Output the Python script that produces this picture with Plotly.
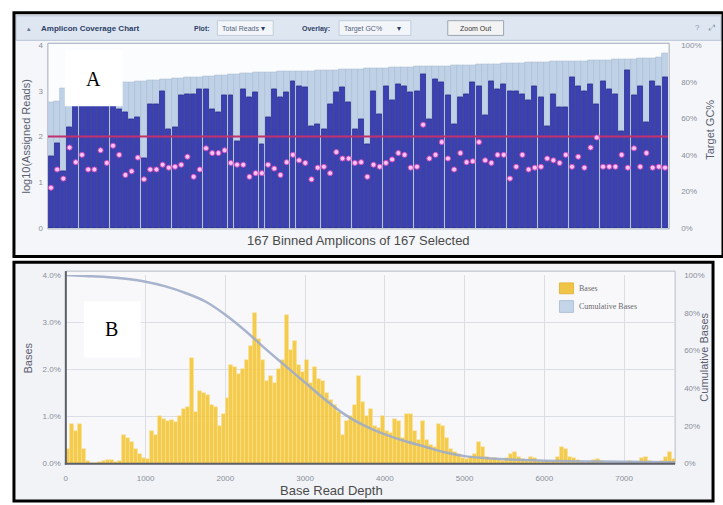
import plotly.graph_objects as go

W, H = 723, 505


def fx(x):
    return x / W


def fy(y):
    return 1 - y / H


# ---------------- Panel A: amplicon coverage ----------------
amplicon_index = list(range(100))

reads_max_log10 = [
    2.75, 2.78, 3.05, 3.08, 3.10, 3.12, 3.13, 3.14, 3.15, 3.16,
    3.17, 3.18, 3.19, 3.20, 3.21, 3.22, 3.23, 3.24, 3.25, 3.26,
    3.27, 3.28, 3.29, 3.30, 3.31, 3.32, 3.33, 3.34, 3.35, 3.36,
    3.37, 3.38, 3.39, 3.40, 3.40, 3.41, 3.41, 3.42, 3.42, 3.43,
    3.43, 3.44, 3.44, 3.45, 3.45, 3.46, 3.46, 3.47, 3.47, 3.48,
    3.48, 3.49, 3.49, 3.50, 3.50, 3.51, 3.51, 3.52, 3.52, 3.53,
    3.53, 3.54, 3.54, 3.55, 3.55, 3.56, 3.56, 3.57, 3.57, 3.58,
    3.58, 3.59, 3.59, 3.60, 3.60, 3.61, 3.61, 3.62, 3.62, 3.63,
    3.63, 3.64, 3.64, 3.65, 3.65, 3.66, 3.66, 3.67, 3.67, 3.68,
    3.68, 3.69, 3.69, 3.70, 3.70, 3.71, 3.71, 3.72, 3.73, 3.83,
]

reads_log10 = [
    1.57, 1.85, 1.25, 2.20, 2.70, 2.95, 3.00, 2.80, 2.95, 3.05,
    2.70, 2.60, 2.54, 2.37, 2.43, 1.53, 2.71, 2.71, 3.00, 2.17,
    2.20, 2.90, 2.92, 2.92, 3.03, 3.03, 2.60, 2.54, 2.90, 2.90,
    1.89, 3.03, 2.86, 2.97, 1.83, 2.43, 3.03, 2.86, 2.97, 3.22,
    3.11, 3.08, 2.22, 2.26, 2.15, 2.71, 2.97, 3.08, 2.75, 2.15,
    2.39, 1.83, 3.00, 2.50, 3.11, 2.80, 3.14, 3.11, 2.97, 3.00,
    3.36, 2.39, 3.25, 3.18, 2.90, 2.28, 2.86, 2.92, 3.18, 3.11,
    2.47, 3.22, 3.03, 3.14, 3.00, 3.00, 2.92, 2.80, 3.11, 2.86,
    2.22, 2.92, 2.65, 2.65, 3.29, 3.11, 3.00, 3.14, 2.71, 3.22,
    3.03, 2.92, 2.11, 3.46, 2.90, 3.11, 2.32, 3.22, 3.11, 3.29,
]

target_gc_pct = [
    22.0, 32.0, 27.0, 44.0, 36.0, 40.0, 32.0, 32.0, 42.5, 35.6,
    45.0, 40.0, 29.0, 31.0, 38.5, 26.6, 32.0, 32.0, 34.6, 33.0,
    33.5, 34.6, 39.0, 28.0, 32.0, 43.6, 41.0, 41.0, 42.5, 35.6,
    34.6, 34.6, 28.0, 30.0, 30.0, 34.6, 32.5, 29.0, 36.0, 40.0,
    37.0, 35.6, 26.6, 33.0, 33.5, 30.0, 41.5, 38.0, 38.0, 35.6,
    36.0, 28.0, 34.6, 33.5, 35.6, 37.5, 41.0, 40.0, 33.0, 33.5,
    56.5, 38.0, 40.0, 47.0, 38.0, 32.0, 41.0, 36.0, 36.5, 47.0,
    37.0, 35.6, 40.0, 40.0, 27.0, 33.5, 40.0, 32.0, 33.0, 33.5,
    38.0, 37.0, 35.6, 40.0, 33.5, 39.0, 33.0, 44.0, 49.5, 33.5,
    33.5, 33.5, 40.0, 33.0, 43.6, 33.5, 41.0, 33.0, 33.5, 33.0,
]

mean_reads_log10 = 2.0
reads_ticks = [0, 1, 2, 3, 4]
gc_ticks = [0, 20, 40, 60, 80, 100]
gc_tick_text = ["0%", "20%", "40%", "60%", "80%", "100%"]

# ---------------- Panel B: base read depth ----------------
bin_width = 50
depth_bin_start = list(range(0, 7650, bin_width))

bases_pct = [
    0.30, 0.85, 0.70, 0.85, 0.30, 0.05, 0.02, 0.02, 0.03, 0.05,
    0.08, 0.08, 0.03, 0.05, 0.60, 0.55, 0.45, 0.30, 0.20, 0.12,
    0.10, 0.70, 0.60, 1.00, 0.95, 0.90, 0.92, 0.88, 1.00, 1.15,
    1.20, 2.25, 1.10, 1.55, 1.50, 1.45, 1.25, 1.20, 0.80, 1.05,
    1.40, 2.10, 2.05, 1.90, 2.00, 2.20, 2.50, 3.20, 2.65, 2.20,
    1.75, 1.85, 1.70, 2.00, 2.20, 3.15, 2.40, 2.60, 2.10, 1.95,
    2.20, 1.70, 2.05, 1.80, 1.75, 1.50, 1.35, 1.25, 1.10, 0.60,
    0.90, 1.00, 1.25, 1.85, 1.30, 1.00, 1.15, 0.80, 0.75, 1.00,
    0.70, 0.65, 0.95, 0.90, 0.55, 1.05, 1.05, 0.70, 0.50, 0.90,
    0.50, 0.40, 0.35, 0.85, 0.80, 0.55, 0.30, 0.25, 0.20, 0.12,
    0.10, 0.15, 0.20, 0.45, 0.35, 0.15, 0.10, 0.12, 0.08, 0.05,
    0.12, 0.20, 0.25, 0.15, 0.10, 0.05, 0.15, 0.12, 0.05, 0.03,
    0.05, 0.04, 0.06, 0.15, 0.35, 0.30, 0.15, 0.12, 0.08, 0.03,
    0.02, 0.03, 0.08, 0.10, 0.05, 0.02, 0.01, 0.02, 0.02, 0.01,
    0.02, 0.05, 0.02, 0.03, 0.12, 0.15, 0.05, 0.02, 0.03, 0.05,
    0.15, 0.25, 0.10,
]

cum_depth = [0, 250, 500, 750, 1000, 1250, 1500, 1750, 2000, 2250, 2500,
             2750, 3000, 3250, 3500, 3750, 4000, 4250, 4500, 4750, 5000,
             5250, 5500, 6000, 6500, 7000, 7640]
cum_bases_pct = [100, 99.5, 99, 98, 96.5, 94, 90.5, 86, 79, 70.5, 61,
                 52, 43, 34, 26, 20, 15.5, 12, 9, 6, 4,
                 3, 2.3, 1.6, 1.2, 1.0, 0.8]

bases_ticks = [0, 1, 2, 3, 4]
bases_tick_text = ["0.0%", "1.0%", "2.0%", "3.0%", "4.0%"]
cum_ticks = [0, 20, 40, 60, 80, 100]
cum_tick_text = ["0%", "20%", "40%", "60%", "80%", "100%"]
depth_ticks = [0, 1000, 2000, 3000, 4000, 5000, 6000, 7000]

fig = go.Figure()

# Panel A traces
fig.add_trace(go.Bar(
    x=amplicon_index, y=reads_max_log10, width=1.04,
    marker=dict(color="#BFD1E6", line=dict(color="#A6B9CF", width=0.5)),
    xaxis="x", yaxis="y", showlegend=False, hoverinfo="skip"))
fig.add_trace(go.Bar(
    x=amplicon_index, y=reads_log10, width=0.8,
    marker=dict(color="#3B40B4", line=dict(color="#262A86", width=0.7)),
    xaxis="x", yaxis="y", showlegend=False))
fig.add_trace(go.Scatter(
    x=[-0.5, 99.5], y=[mean_reads_log10, mean_reads_log10], mode="lines",
    line=dict(color="#C4306E", width=2),
    xaxis="x", yaxis="y", showlegend=False, hoverinfo="skip"))
fig.add_trace(go.Scatter(
    x=amplicon_index, y=target_gc_pct, mode="markers",
    marker=dict(size=5, color="#F6C6F0", line=dict(color="#D64CC8", width=1)),
    xaxis="x", yaxis="y2", showlegend=False))

# Panel B traces
fig.add_trace(go.Bar(
    x=depth_bin_start, y=bases_pct, width=bin_width, offset=0,
    marker=dict(color="rgba(243,196,52,0.88)",
                line=dict(color="rgba(250,226,150,0.9)", width=0.6)),
    xaxis="x3", yaxis="y3", showlegend=False))
fig.add_trace(go.Scatter(
    x=cum_depth, y=cum_bases_pct, mode="lines",
    line=dict(color="rgba(158,172,200,0.9)", width=2.5, shape="spline"),
    xaxis="x3", yaxis="y4", showlegend=False))

tick_font = dict(family="Liberation Sans, Arial", size=8, color="#8A8F9A")

A_left, A_right, A_top, A_bottom = 46, 668, 42, 228
B_left, B_right, B_top, B_bottom = 64, 675, 276, 468

fig.update_layout(
    width=W, height=H,
    margin=dict(l=0, r=0, t=0, b=0),
    paper_bgcolor="white",
    plot_bgcolor="rgba(0,0,0,0)",
    barmode="overlay",
    bargap=0,
    xaxis=dict(domain=[fx(A_left), fx(A_right)], range=[-0.5, 99.5],
               showticklabels=False, ticks="", showgrid=False, zeroline=False,
               showline=False),
    yaxis=dict(domain=[fy(A_bottom), fy(A_top)], range=[0, 4],
               tickvals=reads_ticks, ticks="", showgrid=False, zeroline=False,
               tickfont=tick_font, ticklabelstandoff=4, showline=False),
    yaxis2=dict(domain=[fy(A_bottom), fy(A_top)], range=[0, 100],
                overlaying="y", side="right", anchor="x",
                tickvals=gc_ticks, ticktext=gc_tick_text, ticks="",
                showgrid=False, zeroline=False, tickfont=tick_font,
                ticklabelstandoff=12, showline=False),
    xaxis3=dict(domain=[fx(B_left), fx(B_right)], range=[0, 7640],
                anchor="y3", tickvals=depth_ticks, ticks="",
                showgrid=True, gridcolor="#DCDEE6", gridwidth=1,
                zeroline=False, tickfont=tick_font, ticklabelstandoff=8,
                showline=False),
    yaxis3=dict(domain=[fy(B_bottom), fy(B_top)], range=[0, 4],
                anchor="x3", tickvals=bases_ticks, ticktext=bases_tick_text,
                ticks="", showgrid=True, gridcolor="#DCDEE6", gridwidth=1,
                zeroline=False, tickfont=tick_font, ticklabelstandoff=4,
                showline=False),
    yaxis4=dict(domain=[fy(B_bottom), fy(B_top)], range=[0, 100],
                overlaying="y3", side="right", anchor="x3",
                tickvals=cum_ticks, ticktext=cum_tick_text, ticks="",
                showgrid=False, zeroline=False, tickfont=tick_font,
                ticklabelstandoff=8, showline=False),
)

shapes = []


def rect(x0, y0, x1, y1, fill=None, line_color=None, width=1, layer="below"):
    shapes.append(dict(
        type="rect", xref="paper", yref="paper",
        x0=fx(x0), x1=fx(x1), y0=fy(y1), y1=fy(y0),
        fillcolor=fill if fill else "rgba(0,0,0,0)",
        line=dict(color=line_color if line_color else "rgba(0,0,0,0)",
                  width=width if line_color else 0),
        layer=layer))


def hline(x0, x1, y, color, width=1, layer="above"):
    shapes.append(dict(type="line", xref="paper", yref="paper",
                       x0=fx(x0), x1=fx(x1), y0=fy(y), y1=fy(y),
                       line=dict(color=color, width=width), layer=layer))


def vline(x, y0, y1, color, width=1, layer="above"):
    shapes.append(dict(type="line", xref="paper", yref="paper",
                       x0=fx(x), x1=fx(x), y0=fy(y0), y1=fy(y1),
                       line=dict(color=color, width=width), layer=layer))


# Panel A window
rect(12, 9, 723, 257, fill="#F4F6F9")
rect(14, 12, 721, 37, fill="#DDE6F1", line_color="#B7C4D6", width=1)
rect(A_left, 40, A_right + 1, A_bottom + 1, fill="#FBFCFD", line_color="#A3ACBA", width=1)
rect(12, 9, 723, 257, line_color="#000000", width=3, layer="above")
# header widgets
rect(216, 17, 272, 32, fill="#F2F5FA", line_color="#C3CDDA")
rect(338, 17, 410, 32, fill="#F2F5FA", line_color="#C3CDDA")
rect(447, 17, 503, 32, fill="#F3F3F3", line_color="#9CA6B4")

# Panel B window
rect(12, 263, 713, 505, fill="#F2F3F7")
rect(B_left, 272, B_right, B_bottom, fill="#F8F8FB", line_color="#B8BCC6", width=1)
vline(B_left, 272, B_bottom + 1, "#5E6068", 2)
hline(B_left - 1, B_right, B_bottom, "#5E6068", 2)
rect(12, 263, 713, 506, line_color="#000000", width=3, layer="above")

# legend swatches
rect(559, 284, 573, 295, fill="#F0C446", line_color="#E4B63A", layer="above")
rect(559, 302, 573, 314, fill="#C4D5E8", line_color="#B0C2D8", layer="above")

# panel letter boxes
rect(63, 47, 121, 104, fill="white", layer="above")
rect(82, 303, 139, 360, fill="white", layer="above")

annotations = []


def text(x, y, s, size=8, color="#333", family="Liberation Sans, Arial",
         xanchor="center", yanchor="middle", angle=0, bold=False):
    annotations.append(dict(
        x=fx(x), y=fy(y), xref="paper", yref="paper", text=("<b>%s</b>" % s) if bold else s,
        showarrow=False, xanchor=xanchor, yanchor=yanchor, textangle=angle,
        borderpad=0,
        font=dict(size=size, color=color, family=family)))


# Panel A header
text(27, 25, "▴", size=7, color="#6B7A94")
text(38, 25, "Amplicon Coverage Chart", size=8, color="#2E3F66", xanchor="left", bold=True)
text(192, 25, "Plot:", size=7, color="#2E3F66", xanchor="left", bold=True)
text(220, 25, "Total Reads", size=7, color="#55637D", xanchor="left")
text(262, 25, "▾", size=8, color="#2E3F66")
text(300, 25, "Overlay:", size=7, color="#2E3F66", xanchor="left", bold=True)
text(342, 25, "Target GC%", size=7, color="#55637D", xanchor="left")
text(398, 25, "▾", size=8, color="#2E3F66")
text(475, 25, "Zoom Out", size=7, color="#333333")
text(697, 24, "?", size=8, color="#8896AC")
text(711, 24, "⤢", size=8, color="#8896AC")

# Panel A axis titles
text(24, 135, "log10(Assigned Reads)", size=11, color="#5A6070", angle=-90)
text(710, 128, "Target GC%", size=11, color="#5A6070", angle=-90)
text(357, 241, "167 Binned Amplicons of 167 Selected", size=13, color="#4A4A4A")

# Panel B axis titles
text(26, 360, "Bases", size=11, color="#5A6070", angle=-90)
text(704, 360, "Cumulative Bases", size=11, color="#5A6070", angle=-90)
text(330, 504, "Base Read Depth", size=13, color="#4A4A4A", yanchor="bottom")

# Panel B legend labels
text(578, 290, "Bases", size=8, color="#6A6A6A", family="Liberation Serif, Times New Roman", xanchor="left")
text(578, 308, "Cumulative Bases", size=8, color="#6A6A6A", family="Liberation Serif, Times New Roman", xanchor="left")

# panel letters
text(92, 76, "A", size=20, color="#000000", family="Liberation Serif, Times New Roman")
text(110, 331, "B", size=20, color="#000000", family="Liberation Serif, Times New Roman")

fig.update_layout(shapes=shapes, annotations=annotations)

fig.write_html("out.html")
